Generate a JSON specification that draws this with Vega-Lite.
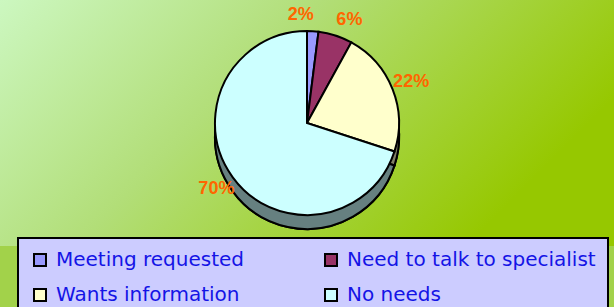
{
  "$schema": "https://vega.github.io/schema/vega-lite/v6.json",
  "width": 614,
  "height": 246,
  "padding": 0,
  "background": "#A2D24A",
  "config": {"view": {"stroke": null}},
  "data": {
    "values": [
      {"category": "Meeting requested", "value": 2, "order": 1, "label": "2%"},
      {"category": "Need to talk to specialist", "value": 6, "order": 2, "label": "6%"},
      {"category": "Wants information", "value": 22, "order": 3, "label": "22%"},
      {"category": "No needs", "value": 70, "order": 4, "label": "70%"}
    ]
  },
  "layer": [
    {
      "data": {"values": [{"bg": 1}]},
      "mark": {
        "type": "rect",
        "fill": {
          "gradient": "linear",
          "x1": 0, "y1": 0, "x2": 1, "y2": 0.4,
          "stops": [
            {"offset": 0, "color": "#CCF7C0"},
            {"offset": 0.45, "color": "#B2DE78"},
            {"offset": 1, "color": "#96C800"}
          ]
        }
      },
      "encoding": {}
    },
    {
      "mark": {"type": "arc", "radius": 92, "fill": "#000000", "stroke": "#000000", "strokeWidth": 2, "yOffset": 14},
      "encoding": {
        "theta": {"field": "value", "type": "quantitative", "stack": true},
        "order": {"field": "order", "type": "quantitative"}
      }
    },
    {
      "mark": {"type": "arc", "radius": 92, "fillOpacity": 0.5, "stroke": "#000000", "strokeWidth": 2, "yOffset": 14},
      "encoding": {
        "theta": {"field": "value", "type": "quantitative", "stack": true},
        "order": {"field": "order", "type": "quantitative"},
        "color": {"field": "category", "type": "nominal",
          "scale": {"domain": ["Meeting requested", "Need to talk to specialist", "Wants information", "No needs"],
                    "range": ["#9999FF", "#993366", "#FFFFCC", "#CCFFFF"]}}
      }
    },
    {
      "mark": {"type": "arc", "radius": 92, "stroke": "#000000", "strokeWidth": 2},
      "encoding": {
        "theta": {"field": "value", "type": "quantitative", "stack": true},
        "order": {"field": "order", "type": "quantitative"},
        "color": {
          "field": "category", "type": "nominal",
          "scale": {"domain": ["Meeting requested", "Need to talk to specialist", "Wants information", "No needs"],
                    "range": ["#9999FF", "#993366", "#FFFFCC", "#CCFFFF"]},
          "legend": {
            "title": null,
            "orient": "none",
            "legendX": 18,
            "legendY": 238,
            "columns": 2,
            "direction": "horizontal",
            "fillColor": "#CCCCFF",
            "strokeColor": "#000000",
            "padding": 12,
            "symbolType": "square",
            "symbolSize": 144,
            "symbolStrokeColor": "#000000",
            "symbolStrokeWidth": 2,
            "symbolOpacity": 1,
            "symbolFillOpacity": 1,
            "labelFont": "DejaVu Sans",
            "labelFontSize": 20,
            "labelColor": "#1414E6",
            "labelLimit": 400,
            "labelOffset": 6,
            "columnPadding": 76,
            "rowPadding": 15,
            "encode": {"legend": {"update": {"strokeWidth": {"value": 2}}}}
          }
        }
      }
    },
    {
      "mark": {"type": "text", "radius": 108, "align": "right", "font": "Liberation Sans", "fontWeight": "bold", "fontSize": 18, "fill": "#FF6600"},
      "encoding": {
        "theta": {"field": "value", "type": "quantitative", "stack": true},
        "order": {"field": "order", "type": "quantitative"},
        "text": {"condition": {"test": "datum.order == 1", "field": "label"}, "value": ""}
      }
    },
    {
      "mark": {"type": "text", "radius": 108, "align": "left", "dx": -4, "font": "Liberation Sans", "fontWeight": "bold", "fontSize": 18, "fill": "#FF6600"},
      "encoding": {
        "theta": {"field": "value", "type": "quantitative", "stack": true},
        "order": {"field": "order", "type": "quantitative"},
        "text": {"condition": {"test": "datum.order == 2", "field": "label"}, "value": ""}
      }
    },
    {
      "mark": {"type": "text", "radius": 112, "font": "Liberation Sans", "fontWeight": "bold", "fontSize": 18, "fill": "#FF6600"},
      "encoding": {
        "theta": {"field": "value", "type": "quantitative", "stack": true},
        "order": {"field": "order", "type": "quantitative"},
        "text": {"condition": {"test": "datum.order >= 3", "field": "label"}, "value": ""}
      }
    }
  ]
}
